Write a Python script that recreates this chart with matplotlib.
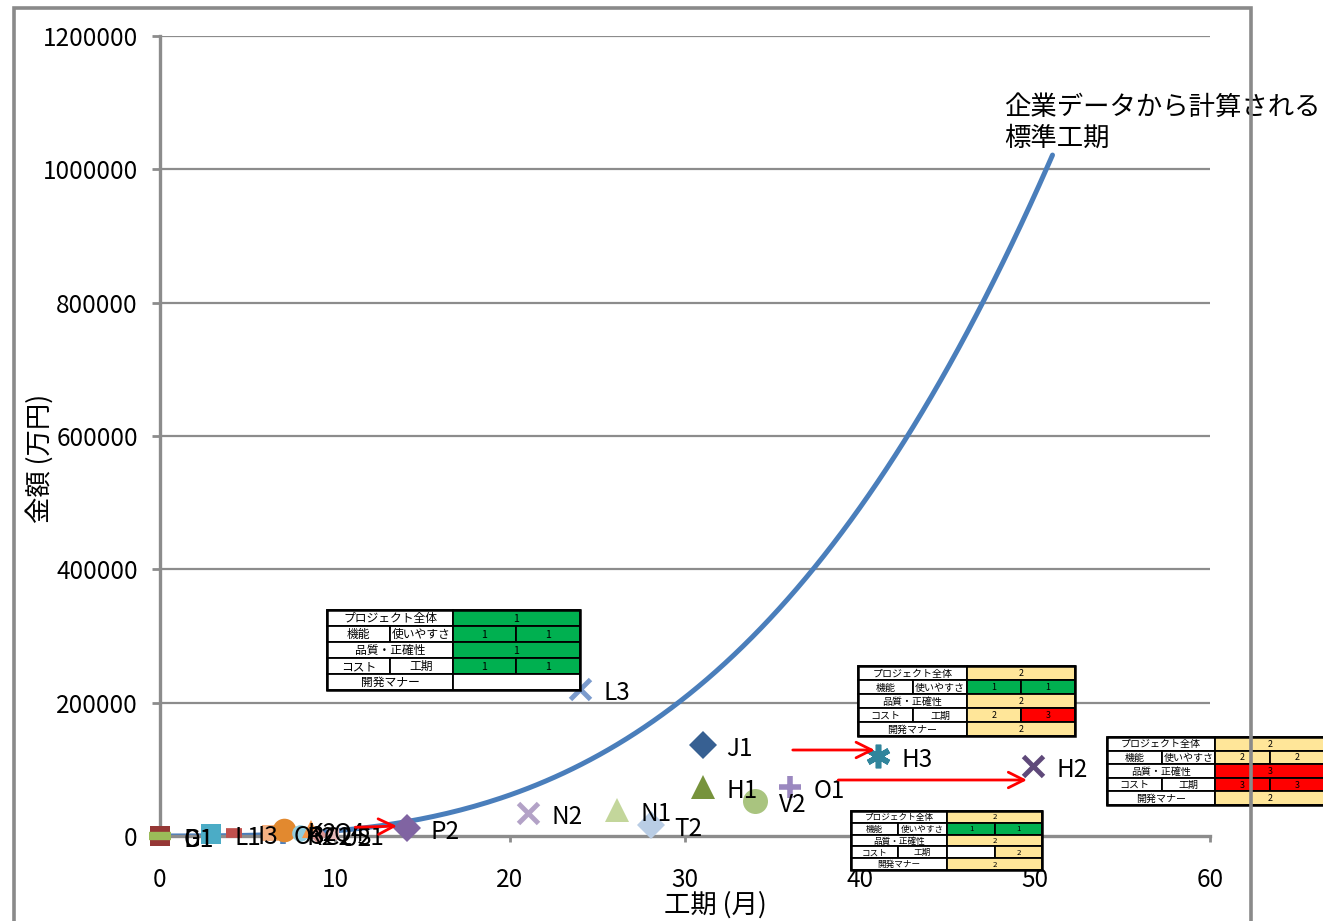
import matplotlib
matplotlib.use("Agg")
import matplotlib.pyplot as plt
from matplotlib.patches import Rectangle
import numpy as np

plt.rcParams['font.family'] = ['Noto Sans CJK JP', 'DejaVu Sans']

W, H = 1323, 921

# Projects: duration (months) and amount (10k yen)
projects = ["D1", "G1", "L1", "I3", "O3", "R2", "K2", "C2", "Q4", "U2", "S1",
            "P2", "N2", "N1", "T2", "L3", "J1", "H1", "V2", "O1", "H3", "H2"]
months = [0.0, 0.0, 2.9, 4.2, 6.3, 7.0, 7.1, 8.0, 8.6, 9.0, 9.9,
          14.1, 21.0, 26.1, 28.05, 24.0, 31.0, 31.0, 34.0, 36.0, 41.0, 49.9]
amounts = [0, 0, 3000, 4500, 4500, 3000, 9000, 4000, 10000, 1500, 3000,
           12000, 34500, 39000, 16500, 220500, 136500, 73500, 52500, 73500, 120000, 105000]

# Standard duration curve: amount = k * months^3
STD_COEF = 7.7
STD_MAX_MONTH = 51.0

x_ticks = [0, 10, 20, 30, 40, 50, 60]
y_ticks = [0, 200000, 400000, 600000, 800000, 1000000, 1200000]

# Evaluation tables (1 = good, 2 = caution, 3 = problem, None = blank)
row_labels = [["プロジェクト全体"], ["機能", "使いやすさ"], ["品質・正確性"],
              ["コスト", "工期"], ["開発マナー"]]
scores_L3 = [[1], [1, 1], [1], [1, 1], [None]]
scores_H3 = [[2], [1, 1], [2], [2, 3], [2]]
scores_H2 = [[2], [2, 2], [3], [3, 3], [2]]
scores_low = [[2], [1, 1], [2], [None, 2], [2]]

ASTERISK = (6, 2, 0)

# marker style per project: (marker, color, size, edge width)
style = {
    "D1": ("s", "#953735", 15, 0),
    "G1": ("_", "#9BBB59", 16, 6),
    "L1": ("s", "#4BACC6", 15, 0),
    "I3": ("_", "#C0504D", 12, 7),
    "O3": ("s", "#F4B183", 11, 0),
    "R2": ("+", "#4F81BD", 14, 4),
    "K2": ("o", "#E2892F", 17, 0),
    "C2": ("o", "#93CDDD", 12, 0),
    "Q4": ("^", "#F79646", 13, 0),
    "U2": ("D", "#D99694", 9, 0),
    "S1": ("s", "#E6B9B8", 8, 0),
    "P2": ("D", "#8064A2", 14, 0),
    "N2": ("x", "#B3A2C7", 14, 3.5),
    "N1": ("^", "#C3D69B", 17, 0),
    "T2": ("D", "#B9CDE5", 14, 0),
    "L3": ("x", "#7B9BCD", 14, 3.5),
    "J1": ("D", "#376092", 14, 0),
    "H1": ("^", "#77933C", 17, 0),
    "V2": ("o", "#A9C47F", 18, 0),
    "O1": ("+", "#9B88C0", 16, 4),
    "H3": (ASTERISK, "#31859C", 17, 4),
    "H2": ("x", "#5F497A", 14, 3.5),
}
line_markers = ("+", "x", "_", ASTERISK)

fig = plt.figure(figsize=(W / 100, H / 100), dpi=100)
ax = fig.add_axes([160 / W, (H - 836) / H, (1210 - 160) / W, (836 - 36) / H])

grid_c = "#8C8C8C"
ax.set_xlim(0, 60)
ax.set_ylim(0, 1200000)
ax.set_xticks(x_ticks)
ax.set_yticks(y_ticks)
ax.set_xticklabels([str(v) for v in x_ticks], fontsize=17.5)
ax.set_yticklabels([str(v) for v in y_ticks], fontsize=17.5)
for y in y_ticks[1:]:
    ax.axhline(y, color=grid_c, lw=1.6, zorder=0.5)
for s in ["top", "right"]:
    ax.spines[s].set_visible(False)
for s in ["left", "bottom"]:
    ax.spines[s].set_color(grid_c)
    ax.spines[s].set_linewidth(2.4)
ax.tick_params(axis="y", length=6, width=2, color=grid_c, pad=10)
ax.tick_params(axis="x", length=4, width=2, color=grid_c, pad=18)
ax.set_xlabel("工期 (月)", fontsize=19)
ax.xaxis.set_label_coords((715 - 160) / 1050, -(905 - 836) / 800)
ax.xaxis.label.set_va("center")
ax.set_ylabel("金額 (万円)", fontsize=19)
ax.yaxis.set_label_coords((40 - 160) / 1050, (836 - 458) / 800)
ax.yaxis.label.set_va("center")

# standard curve
cx = np.linspace(0, STD_MAX_MONTH, 200)
ax.plot(cx, STD_COEF * cx ** 3, color="#4A7EBB", lw=3.6, zorder=2,
        solid_capstyle="round")
ax.text(48.25, 1113000, "企業データから計算される\n標準工期", fontsize=19,
        va="top", ha="left", linespacing=1.2, zorder=6)

# project markers and labels
for name, mx, my in zip(projects, months, amounts):
    mk, col, ms, mew = style[name]
    if mk in line_markers:
        ax.plot(mx, my, linestyle="none", marker=mk, color=col, ms=ms, mew=mew,
                zorder=4, clip_on=False)
    else:
        ax.plot(mx, my, linestyle="none", marker=mk, color=col, ms=ms, mew=0,
                zorder=4, clip_on=False)
    ax.annotate(name, (mx, my), xytext=(17, -3), textcoords="offset points",
                fontsize=17.5, va="center", ha="left", zorder=5,
                annotation_clip=False)

# arrows toward the re-evaluated projects
arrow_kw = dict(arrowstyle="->", color="red", lw=2, mutation_scale=28)
ax.annotate("", xy=(13.7, 15000), xytext=(11.0, 13000), arrowprops=arrow_kw, zorder=6)
ax.annotate("", xy=(41.0, 129000), xytext=(36.0, 129000), arrowprops=arrow_kw, zorder=6)
ax.annotate("", xy=(49.7, 84000), xytext=(38.6, 84000), arrowprops=arrow_kw, zorder=6)

# overlay in pixel space for frame and tables
ov = fig.add_axes([0, 0, 1, 1], zorder=10)
ov.set_xlim(0, W)
ov.set_ylim(H, 0)
ov.axis("off")
ov.patch.set_alpha(0)

frame_c = "#8A8A8A"
ov.plot([14, 14, 1251, 1251], [H + 5, 8.5, 8.5, H + 5], color=frame_c, lw=2.6,
        solid_joinstyle="miter")

score_color = {1: "#00B050", 2: "#FFE699", 3: "#FF0000", None: "white"}


def draw_table(x0, y0, widths, rh, scores, fs):
    xs = np.concatenate([[x0], x0 + np.cumsum(widths)])
    for r in range(5):
        top = y0 + r * rh
        labels = row_labels[r]
        if len(labels) == 1:
            spans = [(xs[0], xs[2])]
        else:
            spans = [(xs[0], xs[1]), (xs[1], xs[2])]
        for (a, b), t in zip(spans, labels):
            ov.add_patch(Rectangle((a, top), b - a, rh, facecolor="white",
                                   edgecolor="black", lw=1.3))
            ov.text((a + b) / 2, top + rh / 2 + 0.5, t, fontsize=fs,
                    ha="center", va="center")
        vals = scores[r]
        if len(vals) == 1:
            vspans = [(xs[2], xs[4])]
        else:
            vspans = [(xs[2], xs[3]), (xs[3], xs[4])]
        for (a, b), v in zip(vspans, vals):
            ov.add_patch(Rectangle((a, top), b - a, rh,
                                   facecolor=score_color[v],
                                   edgecolor="black", lw=1.3))
            if v is not None:
                ov.text((a + b) / 2, top + rh / 2 + 0.5, str(v),
                        fontsize=fs * 0.9, ha="center", va="center")
    ov.add_patch(Rectangle((xs[0], y0), xs[-1] - xs[0], 5 * rh,
                           facecolor="none", edgecolor="black", lw=1.8))


draw_table(327, 610, [63, 63, 63, 64], 16, scores_L3, 8.5)
draw_table(858, 666, [55, 54, 54, 54], 14, scores_H3, 7.2)
draw_table(1107, 737, [55, 53, 55, 55], 13.6, scores_H2, 7.2)
draw_table(851, 811, [47, 49, 48, 47], 11.8, scores_low, 6.2)

fig.savefig("out.png", dpi=100)
